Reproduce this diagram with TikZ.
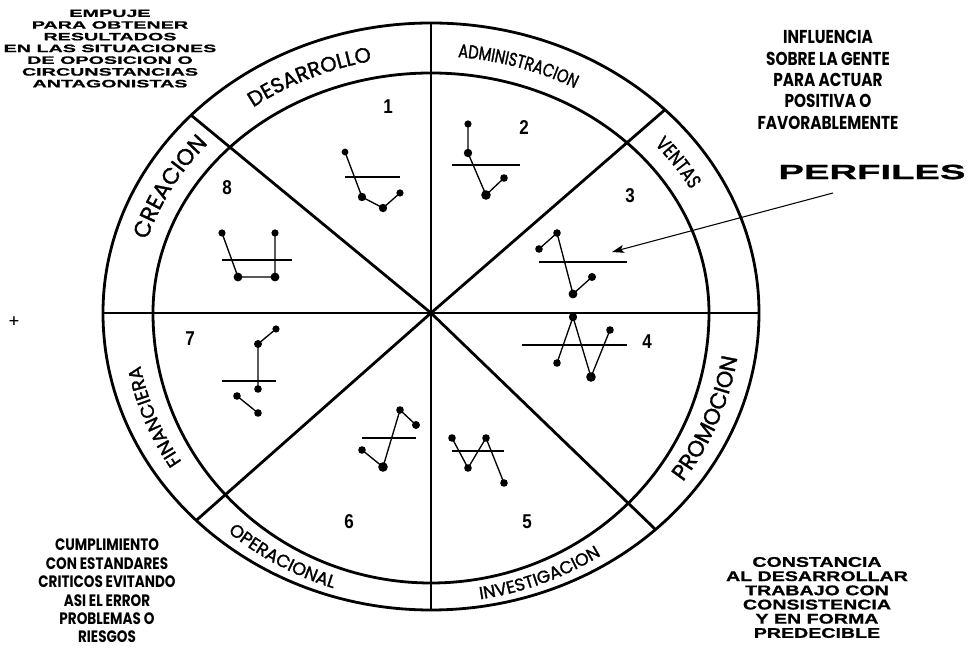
\documentclass[tikz,border=0pt]{standalone}
\usepackage{fontspec}
\usetikzlibrary{arrows.meta,decorations.text}
\setmainfont{Poppins}
\newfontfamily\ringfont[FakeBold=1.4]{Poppins}
\newfontfamily\narrowfont[FakeStretch=0.78, FakeBold=1.4]{Poppins}
\newfontfamily\widefont[FakeStretch=1.85, FakeBold=1]{Liberation Sans}
\newfontfamily\medfont[FakeStretch=1.4, FakeBold=1]{Liberation Sans}
\newfontfamily\gothfont[FakeStretch=0.82]{Poppins}
\newfontfamily\numfont[FakeStretch=0.85]{Liberation Sans}

\begin{document}
\begin{tikzpicture}[x=0.75pt, y=0.75pt,
    ring/.style={line width=2.1pt},
    profile/.style={line width=1pt},
    bar/.style={line width=1.2pt},
    num/.style={font=\numfont\bfseries\fontsize{15}{15}\selectfont},
    note/.style={align=center, inner sep=0pt},
    pointer/.style={-{Stealth[length=9pt,width=6pt,inset=2pt]}, line width=0.8pt},
]

\fill[white] (-431,-335) rectangle (541,313);
\useasboundingbox (-431,-335) rectangle (541,313);

% Rueda
\coordinate (c) at (0,0);
\coordinate (arriba) at (0,290);
\coordinate (abajo) at (0,-297);
\coordinate (izq) at (-328,0);
\coordinate (der) at (328,0);
\coordinate (d1) at (137:328 and 290);
\coordinate (d2) at (44.5:328 and 290);
\coordinate (d3) at (224.3:328 and 297);
\coordinate (d4) at (-46.8:328 and 297);

\draw[ring] (der) arc[start angle=0, end angle=180, x radius=328, y radius=290]
    arc[start angle=180, end angle=360, x radius=328, y radius=297];
\draw[ring] (278,0) arc[start angle=0, end angle=180, x radius=278, y radius=240]
    arc[start angle=180, end angle=360, x radius=278, y radius=270];

\draw[ring] (arriba) -- (abajo);
\draw[ring] (izq) -- (der);
\draw[ring] (c) -- (d1);
\draw[ring] (c) -- (d2);
\draw[ring] (c) -- (d3);
\draw[ring] (c) -- (d4);

% Areas en el anillo
\path[decorate, decoration={text along path, text align=center,
    text={|\ringfont\fontsize{15.7}{18}\selectfont|DESARROLLO}}]
    (150:296 and 257) arc[start angle=150, end angle=80, x radius=296, y radius=257];
\path[decorate, decoration={text along path, text align=center,
    text={|\narrowfont\fontsize{14}{16}\selectfont|ADMINISTRACION}}]
    (100:296 and 257) arc[start angle=100, end angle=45, x radius=296, y radius=257];
\path[decorate, decoration={text along path, text align=center,
    text={|\narrowfont\fontsize{15}{17}\selectfont|VENTAS}}]
    (52:296 and 257) arc[start angle=52, end angle=17, x radius=296, y radius=257];
\path[decorate, decoration={text along path, text align=center,
    text={|\ringfont\fontsize{17}{19}\selectfont|CREACION}}]
    (184:296 and 257) arc[start angle=184, end angle=120, x radius=296, y radius=257];
\path[decorate, decoration={text along path, text align=center,
    text={|\ringfont\fontsize{14}{16}\selectfont|FINANCIERA}}]
    (232:296 and 276) arc[start angle=232, end angle=171, x radius=296, y radius=276];
\path[decorate, decoration={text along path, text align=center,
    text={|\ringfont\fontsize{13.3}{15}\selectfont|OPERACIONAL}}]
    (210:310 and 290) arc[start angle=210, end angle=270, x radius=310, y radius=290];
\path[decorate, decoration={text along path, text align=center,
    text={|\ringfont\fontsize{13}{15}\selectfont|INVESTIGACION}}]
    (260:310 and 290) arc[start angle=260, end angle=323, x radius=310, y radius=290];
\path[decorate, decoration={text along path, text align=center,
    text={|\ringfont\fontsize{16.8}{19}\selectfont|PROMOCION}}]
    (-50:310 and 290) arc[start angle=-50, end angle=6, x radius=310, y radius=290];

% Numeros
\node[num] (n1) at (-43,206) {1};
\node[num] (n2) at (93,185) {2};
\node[num] (n3) at (199,117) {3};
\node[num] (n4) at (216,-29) {4};
\node[num] (n5) at (96,-209) {5};
\node[num] (n6) at (-82,-209) {6};
\node[num] (n7) at (-241,-26) {7};
\node[num] (n8) at (-204,125) {8};

% Perfil 1
\draw[profile] (-86,161) -- (-69,116) -- (-48,105) -- (-31,120);
\draw[bar] (-86,136) -- (-31,136);
\foreach \x/\y/\r in {-86/161/3.4, -69/116/4.2, -48/105/4.2, -31/120/3.6}
    \fill (\x,\y) circle[radius=\r];

% Perfil 2
\draw[profile] (37,189) -- (37,160) -- (55,118) -- (73,135);
\draw[bar] (21,148) -- (89,148);
\foreach \x/\y/\r in {37/189/3.6, 37/160/4.2, 55/118/4.8, 73/135/3.8}
    \fill (\x,\y) circle[radius=\r];

% Perfil 3
\draw[profile] (108,64) -- (126,80) -- (142,19) -- (161,36);
\draw[bar] (108,51) -- (196,51);
\foreach \x/\y/\r in {108/64/3.8, 126/80/3.8, 142/19/4.4, 161/36/4}
    \fill (\x,\y) circle[radius=\r];

% Perfil 4
\draw[profile] (126,-50) -- (142,-4) -- (160,-64) -- (179,-17);
\draw[bar] (91,-32) -- (196,-32);
\foreach \x/\y/\r in {126/-50/3.8, 142/-4/4.2, 160/-64/4.8, 179/-17/3.8}
    \fill (\x,\y) circle[radius=\r];

% Perfil 5
\draw[profile] (21,-125) -- (37,-155) -- (55,-125) -- (73,-170);
\draw[bar] (21,-138) -- (73,-138);
\foreach \x/\y/\r in {21/-125/3.8, 37/-155/3.8, 55/-125/3.8, 73/-170/3.8}
    \fill (\x,\y) circle[radius=\r];

% Perfil 6
\draw[profile] (-69,-137) -- (-48,-154) -- (-31,-97) -- (-15,-112);
\draw[bar] (-69,-125) -- (-15,-125);
\foreach \x/\y/\r in {-69/-137/3.8, -48/-154/4.8, -31/-97/3.8, -15/-112/4}
    \fill (\x,\y) circle[radius=\r];

% Perfil 7
\draw[profile] (-155,-16) -- (-173,-31) -- (-173,-76);
\draw[profile] (-194,-83) -- (-173,-100);
\draw[bar] (-209,-68) -- (-155,-68);
\foreach \x/\y/\r in {-155/-16/3.6, -173/-31/4, -173/-76/3.8, -194/-83/3.8, -173/-100/3.8}
    \fill (\x,\y) circle[radius=\r];

% Perfil 8
\draw[profile] (-209,80) -- (-193,36) -- (-156,36) -- (-156,80);
\draw[bar] (-209,53) -- (-139,53);
\foreach \x/\y/\r in {-209/80/3.6, -193/36/4.4, -156/36/4.4, -156/80/3.6}
    \fill (\x,\y) circle[radius=\r];

% Textos
\node[note, font=\widefont\bfseries\fontsize{8}{8.8}\selectfont] (empuje) at (-321,264.5)
    {EMPUJE\\PARA OBTENER\\RESULTADOS\\EN LAS SITUACIONES\\DE OPOSICION O\\CIRCUNSTANCIAS\\ANTAGONISTAS};
\node[note, font=\gothfont\bfseries\fontsize{14}{16}\selectfont] (influencia) at (397,233)
    {INFLUENCIA\\SOBRE LA GENTE\\PARA ACTUAR\\POSITIVA O\\FAVORABLEMENTE};
\node[note, font=\gothfont\bfseries\fontsize{12.4}{13.8}\selectfont] (cumplimiento) at (-324,-278)
    {CUMPLIMIENTO\\CON ESTANDARES\\CRITICOS EVITANDO\\ASI EL ERROR\\PROBLEMAS O\\RIESGOS};
\node[note, font=\medfont\bfseries\fontsize{10.5}{10.65}\selectfont] (constancia) at (386,-284.5)
    {CONSTANCIA\\AL DESARROLLAR\\TRABAJO CON\\CONSISTENCIA\\Y EN FORMA\\PREDECIBLE};
\node[note, font=\widefont\bfseries\fontsize{15.5}{16}\selectfont] (perfiles) at (441,141) {PERFILES};
\node[note, font=\fontsize{13}{13}\selectfont] (mas) at (-417,-9) {+};

% Flecha
\coordinate (tail) at (402,120);
\coordinate (tip) at (181,61);
\draw[pointer] (tail) -- (tip);

\end{tikzpicture}
\end{document}
